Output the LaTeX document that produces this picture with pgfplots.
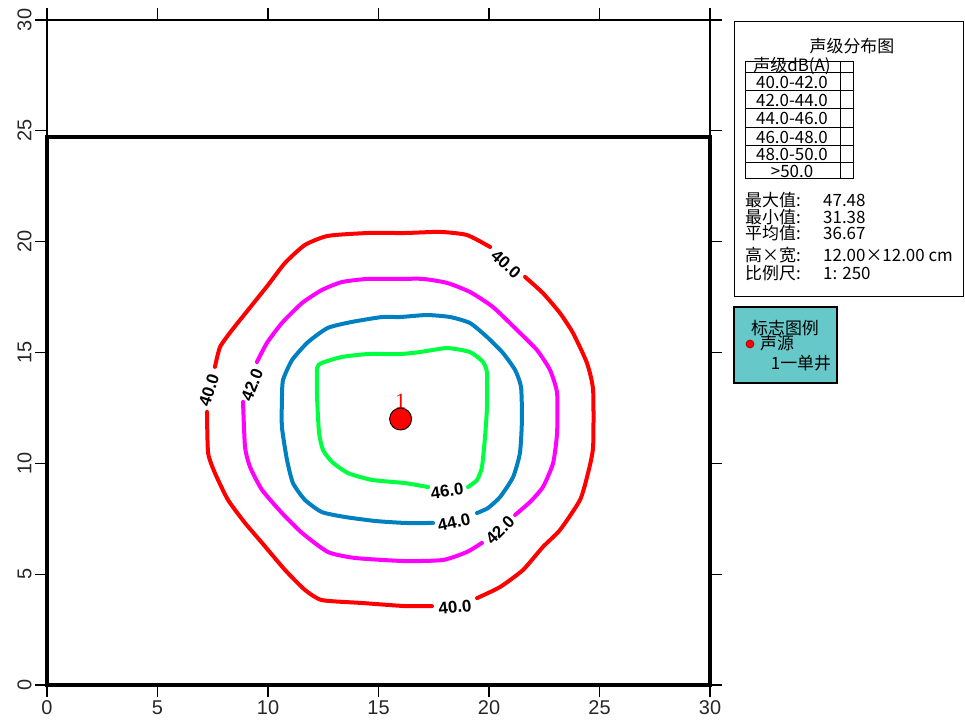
\documentclass[border=0pt]{standalone}
\usepackage{pgfplots}
\pgfplotsset{compat=1.18}
\usepackage{fontspec}
\setmainfont{Liberation Sans}
\newfontfamily\cjk{Noto Sans CJK SC}
\newfontfamily\serifone{Liberation Serif}
\definecolor{cred}{RGB}{255,0,0}
\definecolor{cmag}{RGB}{255,0,255}
\definecolor{cblue}{RGB}{0,128,192}
\definecolor{cgreen}{RGB}{0,255,64}
\definecolor{cteal}{RGB}{102,200,200}
\newcommand\lf{\cjk\fontsize{17}{17}\selectfont}
\newcommand\cf{\bfseries\fontsize{17}{17}\selectfont}
\begin{document}
\begin{tikzpicture}
\begin{axis}[
 scale only axis, width=663bp, height=665bp,
 xmin=0,xmax=30,ymin=0,ymax=30,
 xtick={0,5,...,30}, ytick={0,5,...,30},
 tick align=outside,
 major tick length=12bp,
 axis line style={line width=1.2bp},
 every tick/.style={black, line width=1.2bp},
 ticklabel style={font=\fontsize{20}{24}\selectfont, text=black!85},
 yticklabel style={rotate=90, anchor=south},
 /pgf/number format/assume math mode=true,
 clip=false,
 cl/.style={line width=4bp, line join=round, line cap=round, mark=none, smooth, tension=0.35},
]
% boundary
\addplot[black, line width=3.2bp, line join=miter, mark=none] coordinates {(0,24.72) (0,0) (30,0) (30,24.72) (0,24.72) (0,0)};
% 40.0 red
\addplot[cred, cl] coordinates {
(7.24,12.32)(7.29,10.47)(7.60,9.56)(8.19,8.35)(8.96,7.31)(9.73,6.41)(10.77,5.19)(11.67,4.29)(12.44,3.83)(14.25,3.70)(16.20,3.56)(17.42,3.56)};
\addplot[cred, cl] coordinates {
(19.46,3.92)(20.50,4.42)(21.54,5.19)(22.44,6.23)(23.21,6.99)(24.12,8.35)(24.48,9.56)(24.71,10.74)(24.71,13.31)(24.43,14.53)(23.80,15.88)(23.21,16.78)(22.44,17.68)(21.63,18.41)};
\addplot[cred, cl] coordinates {
(20.05,19.76)(19.00,20.30)(17.78,20.44)(16.20,20.39)(14.52,20.39)(12.71,20.26)(11.67,19.85)(10.77,19.04)(10.00,18.04)(9.10,16.92)(8.37,16.01)(7.83,15.25)(7.60,14.35)};
% 42.0 magenta
\addplot[cmag, cl] coordinates {
(8.87,12.77)(8.96,10.74)(9.19,9.83)(9.73,8.80)(10.63,7.76)(11.54,6.86)(12.71,6.00)(13.94,5.73)(16.20,5.59)(17.92,5.64)(19.00,6.00)(19.68,6.41)};
\addplot[cmag, cl] coordinates {
(21.18,7.67)(21.86,8.26)(22.44,8.93)(22.90,10.01)(23.08,11.37)(23.08,13.17)(22.76,14.21)(22.17,15.11)(21.27,16.01)(20.18,17.05)(19.14,17.73)(18.10,18.14)(17.01,18.32)(15.97,18.32)(14.52,18.32)(13.35,18.18)(12.44,17.82)(11.54,17.23)(10.63,16.33)(9.95,15.43)(9.50,14.57)};
% 44.0 blue
\addplot[cblue, cl] coordinates {
(17.47,7.31)(16.20,7.31)(14.84,7.40)(13.48,7.58)(12.44,7.80)(11.67,8.35)(11.13,9.11)(10.86,10.15)(10.63,11.64)(10.63,12.86)(10.68,13.76)(11.09,14.66)(11.81,15.47)(12.71,16.11)(13.80,16.38)(15.16,16.60)(15.97,16.60)(17.19,16.69)(18.24,16.60)(19.14,16.33)(19.91,15.70)(20.63,14.98)(21.18,14.21)(21.45,13.44)(21.49,11.95)(21.40,10.47)(21.09,9.38)(20.50,8.48)(19.95,7.98)(19.46,7.76)};
% 46.0 green
\addplot[cgreen, cl] coordinates {
(17.24,8.93)(16.20,9.11)(14.71,9.25)(13.62,9.56)(12.90,10.06)(12.49,10.60)(12.31,11.37)(12.22,12.99)(12.22,14.30)(12.44,14.53)(13.35,14.80)(14.52,14.93)(15.97,14.93)(16.88,15.02)(18.10,15.20)(19.14,15.02)(19.73,14.57)(19.91,14.07)(19.91,12.54)(19.82,11.19)(19.68,9.83)(19.46,9.25)(19.05,8.93)};
% source
\addplot[only marks, mark=*, mark size=11bp, mark options={fill=cred, draw=black, line width=0.9bp}] coordinates {(16,12)}
 node[above, pos=0, yshift=10bp, text=cred, font=\serifone\fontsize{22}{22}\selectfont, inner sep=0pt] {1};
% contour labels
\node[rotate=-42, font=\cf, inner sep=0] at (axis cs:20.77,18.99) {40.0};
\node[rotate=72, font=\cf, inner sep=0] at (axis cs:7.33,13.31) {40.0};
\node[rotate=68, font=\cf, inner sep=0] at (axis cs:9.28,13.53) {42.0};
\node[rotate=6, font=\cf, inner sep=0] at (axis cs:18.46,3.52) {40.0};
\node[rotate=45, font=\cf, inner sep=0] at (axis cs:20.50,6.99) {42.0};
\node[rotate=12, font=\cf, inner sep=0] at (axis cs:18.42,7.35) {44.0};
\node[rotate=8, font=\cf, inner sep=0] at (axis cs:18.10,8.75) {46.0};
\coordinate (O) at (axis cs:-2.12670,30.9020);
\end{axis}
\begin{scope}[shift={(O)}, x=1bp, y=-1bp]
\draw[line width=1bp] (734,22) rectangle (963.5,297);
\node[font=\lf] at (852,46) {声级分布图};
\draw[line width=1bp] (745,62) rectangle (853,179);
\draw[line width=1bp] (840,62) -- (840,179);
\foreach \yy in {73,91,109,128,146,163} {\draw[line width=1bp] (745,\yy) -- (853,\yy);}
\node[font=\lf, inner sep=0] at (792,66) {声级dB(A)};
\node[font=\lf, inner sep=0] at (792,82) {40.0-42.0};
\node[font=\lf, inner sep=0] at (792,100) {42.0-44.0};
\node[font=\lf, inner sep=0] at (792,118.5) {44.0-46.0};
\node[font=\lf, inner sep=0] at (792,137) {46.0-48.0};
\node[font=\lf, inner sep=0] at (792,154.5) {48.0-50.0};
\node[font=\lf, inner sep=0] at (792,171) {>50.0};
\node[font=\lf, inner sep=0, anchor=west] at (745,200) {最大值:};
\node[font=\lf, inner sep=0, anchor=west] at (745,217) {最小值:};
\node[font=\lf, inner sep=0, anchor=west] at (745,233) {平均值:};
\node[font=\lf, inner sep=0, anchor=west] at (745,255) {高×宽:};
\node[font=\lf, inner sep=0, anchor=west] at (745,273) {比例尺:};
\node[font=\lf, inner sep=0, anchor=west] at (823,200) {47.48};
\node[font=\lf, inner sep=0, anchor=west] at (823,217) {31.38};
\node[font=\lf, inner sep=0, anchor=west] at (823,233) {36.67};
\node[font=\lf, inner sep=0, anchor=west] at (823,255) {12.00×12.00 cm};
\node[font=\lf, inner sep=0, anchor=west] at (823,273) {1: 250};
\draw[fill=cteal, line width=1.5bp] (734,307) rectangle (837,383);
\node[font=\lf, inner sep=0] at (785,328) {标志图例};
\fill[cred, draw=red!60!black, line width=0.6bp] (750,344) circle (4);
\node[font=\lf, inner sep=0] at (777,343) {声源};
\node[font=\lf, inner sep=0] at (801,363) {1一单井};
\end{scope}
\pgfresetboundingbox
\path[use as bounding box, shift={(O)}, x=1bp, y=-1bp] (0,0) rectangle (965,724);
\end{tikzpicture}
\end{document}
